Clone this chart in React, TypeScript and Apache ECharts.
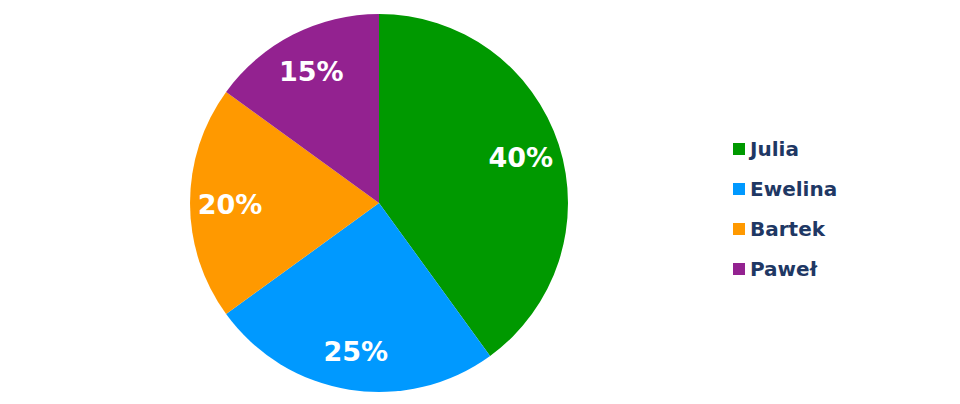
import React, { useEffect, useRef } from "react";
import * as echarts from "echarts";

const names = ["Julia", "Ewelina", "Bartek", "Paweł"];
const values = [40, 25, 20, 15];
const colors = ["#009900", "#0099FF", "#FF9900", "#932290"];

export default function App() {
  const ref = useRef<HTMLDivElement>(null);
  useEffect(() => {
    if (!ref.current) return;
    const chart = echarts.init(ref.current, null, { renderer: "svg" });
    const data = names.map((n, i) => ({ name: n, value: values[i], itemStyle: { color: colors[i] } }));
    const labelData = names.map((n, i) => ({ name: n, value: values[i], itemStyle: { color: "rgba(0,0,0,0)" } }));
    chart.setOption({
      animation: false,
      backgroundColor: "#ffffff",
      legend: {
        orient: "vertical",
        left: 728,
        top: 134,
        data: names,
        icon: "rect",
        itemWidth: 12,
        itemHeight: 12,
        itemGap: 20,
        selectedMode: false,
        textStyle: {
          fontFamily: "DejaVu Sans",
          fontWeight: "bold",
          fontSize: 20,
          lineHeight: 20,
          color: "#1F3864",
        },
      },
      series: [
        {
          type: "pie",
          center: [379, 203],
          radius: [0, 189],
          startAngle: 90,
          clockwise: true,
          label: { show: false },
          labelLine: { show: false },
          emphasis: { disabled: true },
          silent: true,
          data,
        },
        {
          type: "pie",
          center: [379, 203],
          radius: [103, 189],
          startAngle: 90,
          clockwise: true,
          silent: true,
          legendHoverLink: false,
          emphasis: { disabled: true },
          labelLine: { show: false },
          label: {
            show: true,
            position: "inside",
            formatter: "{c}%",
            color: "#ffffff",
            fontFamily: "DejaVu Sans",
            fontWeight: "bold",
            fontSize: 27,
            offset: [0, 1],
          },
          data: labelData,
        },
      ],
    });
    return () => chart.dispose();
  }, []);
  return (
    <div
      ref={ref}
      style={{ position: "fixed", left: 0, top: 0, width: 960, height: 404 }}
    />
  );
}
